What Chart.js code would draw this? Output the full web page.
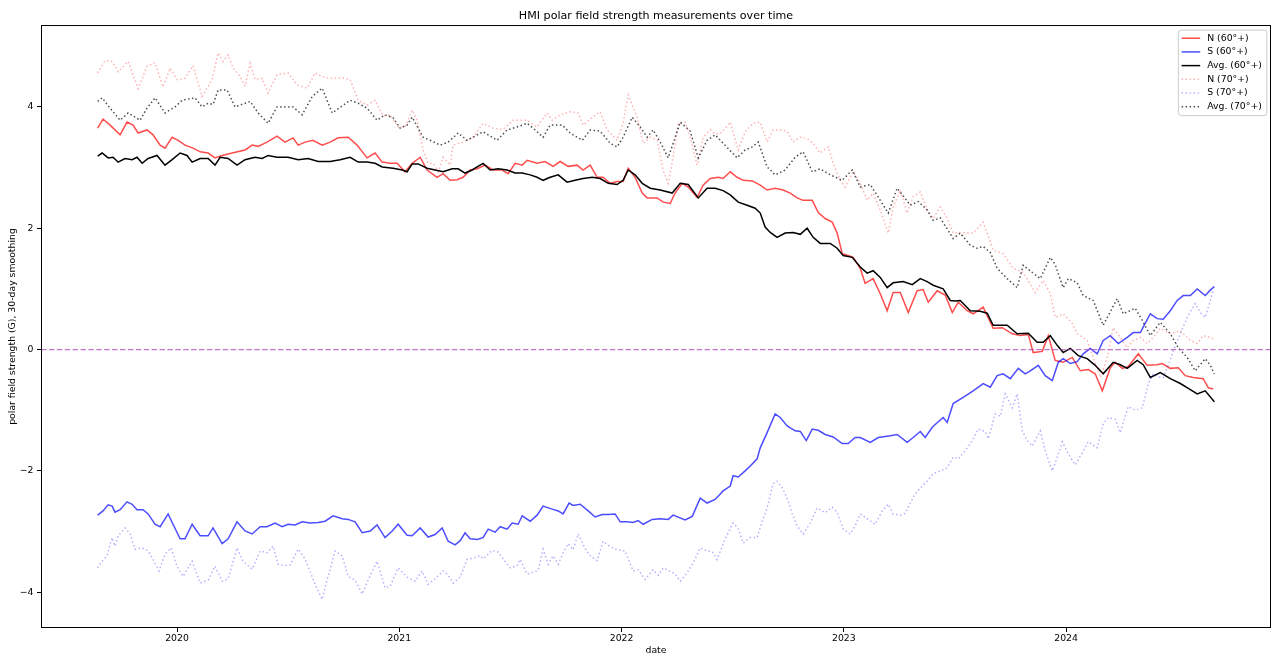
<!DOCTYPE html>
<html>
<head>
<meta charset="utf-8">
<title>HMI polar field strength measurements over time</title>
<script src="https://cdn.jsdelivr.net/npm/chart.js@4.4.1/dist/chart.umd.min.js"></script>
<style>
  html, body { margin: 0; padding: 0; background: #fff; }
  #wrap { width: 1280px; height: 667px; }
</style>
</head>
<body>
<div id="wrap"><canvas id="polarChart" width="1280" height="667"></canvas></div>
<script>
// dates are decimal years, values are polar field strength in G (30-day smoothing)

// N (60°+)
const north60Dates = [2019.643,2019.667,2019.699,2019.744,2019.775,2019.802,2019.825,2019.865,2019.892,2019.924,2019.946,2019.978,2020.005,2020.036,2020.072,2020.104,2020.14,2020.171,2020.203,2020.248,2020.306,2020.338,2020.365,2020.405,2020.45,2020.486,2020.522,2020.545,2020.576,2020.612,2020.653,2020.689,2020.725,2020.77,2020.81,2020.855,2020.891,2020.923,2020.959,2020.99,2021.026,2021.058,2021.094,2021.125,2021.17,2021.197,2021.229,2021.26,2021.287,2021.319,2021.35,2021.386,2021.422,2021.463,2021.49,2021.521,2021.553,2021.575,2021.62,2021.656,2021.692,2021.724,2021.76,2021.8,2021.827,2021.859,2021.89,2021.917,2021.949,2021.98,2022.007,2022.03,2022.061,2022.093,2022.115,2022.16,2022.187,2022.219,2022.241,2022.273,2022.3,2022.34,2022.367,2022.399,2022.435,2022.457,2022.489,2022.52,2022.547,2022.588,2022.624,2022.655,2022.691,2022.727,2022.759,2022.79,2022.817,2022.858,2022.885,2022.916,2022.948,2022.97,2022.993,2023.02,2023.042,2023.074,2023.096,2023.132,2023.164,2023.195,2023.222,2023.254,2023.29,2023.33,2023.357,2023.38,2023.42,2023.456,2023.488,2023.515,2023.555,2023.582,2023.627,2023.672,2023.713,2023.758,2023.794,2023.83,2023.852,2023.893,2023.92,2023.951,2023.987,2024.028,2024.064,2024.1,2024.131,2024.163,2024.199,2024.221,2024.253,2024.28,2024.325,2024.365,2024.41,2024.433,2024.469,2024.505,2024.536,2024.572,2024.617,2024.64,2024.662];
const north60Values = [3.65,3.80,3.70,3.54,3.75,3.70,3.57,3.62,3.54,3.37,3.32,3.50,3.45,3.37,3.32,3.26,3.24,3.16,3.20,3.24,3.29,3.37,3.35,3.42,3.52,3.42,3.49,3.37,3.42,3.45,3.37,3.42,3.49,3.50,3.37,3.16,3.24,3.09,3.07,3.07,2.93,3.07,3.17,2.96,2.84,2.90,2.79,2.80,2.84,2.96,2.98,3.04,2.96,2.96,2.90,3.07,3.04,3.12,3.07,3.10,3.02,3.10,3.02,3.04,2.96,3.04,2.84,2.84,2.74,2.77,2.77,2.99,2.84,2.58,2.50,2.50,2.43,2.41,2.58,2.74,2.68,2.51,2.71,2.82,2.84,2.82,2.93,2.84,2.79,2.78,2.71,2.63,2.66,2.63,2.58,2.50,2.46,2.46,2.26,2.16,2.10,1.92,1.58,1.55,1.52,1.34,1.09,1.17,0.92,0.64,0.94,0.94,0.61,0.97,0.99,0.78,0.97,0.90,0.61,0.78,0.64,0.59,0.70,0.35,0.36,0.26,0.23,0.25,-0.05,-0.03,0.23,-0.18,-0.21,-0.13,-0.35,-0.33,-0.40,-0.68,-0.30,-0.21,-0.31,-0.28,-0.07,-0.26,-0.25,-0.23,-0.31,-0.30,-0.43,-0.46,-0.48,-0.63,-0.65];

// S (60°+)
const south60Dates = [2019.643,2019.667,2019.69,2019.708,2019.721,2019.744,2019.775,2019.798,2019.82,2019.847,2019.87,2019.901,2019.924,2019.96,2019.982,2020.014,2020.036,2020.068,2020.104,2020.14,2020.162,2020.203,2020.23,2020.27,2020.306,2020.338,2020.374,2020.405,2020.441,2020.473,2020.5,2020.531,2020.563,2020.599,2020.635,2020.666,2020.702,2020.743,2020.77,2020.801,2020.833,2020.869,2020.9,2020.936,2020.968,2020.995,2021.035,2021.058,2021.094,2021.13,2021.161,2021.193,2021.22,2021.251,2021.274,2021.296,2021.319,2021.35,2021.377,2021.4,2021.431,2021.454,2021.485,2021.508,2021.535,2021.553,2021.589,2021.62,2021.647,2021.688,2021.715,2021.737,2021.764,2021.782,2021.814,2021.85,2021.881,2021.913,2021.94,2021.971,2021.994,2022.025,2022.052,2022.075,2022.097,2022.138,2022.174,2022.21,2022.232,2022.286,2022.318,2022.354,2022.385,2022.421,2022.457,2022.489,2022.502,2022.525,2022.556,2022.579,2022.61,2022.624,2022.655,2022.691,2022.714,2022.745,2022.781,2022.804,2022.831,2022.858,2022.885,2022.916,2022.952,2022.993,2023.02,2023.051,2023.074,2023.119,2023.155,2023.209,2023.24,2023.285,2023.312,2023.344,2023.366,2023.398,2023.425,2023.447,2023.465,2023.492,2023.537,2023.582,2023.627,2023.659,2023.69,2023.717,2023.749,2023.785,2023.816,2023.839,2023.875,2023.906,2023.938,2023.965,2023.987,2024.019,2024.05,2024.077,2024.109,2024.14,2024.167,2024.199,2024.235,2024.275,2024.302,2024.334,2024.356,2024.379,2024.41,2024.437,2024.469,2024.5,2024.527,2024.559,2024.59,2024.626,2024.649,2024.667];
const south60Values = [-2.73,-2.66,-2.56,-2.58,-2.68,-2.64,-2.51,-2.55,-2.64,-2.64,-2.71,-2.88,-2.92,-2.71,-2.88,-3.12,-3.12,-2.88,-3.07,-3.07,-2.94,-3.20,-3.12,-2.84,-2.99,-3.04,-2.92,-2.92,-2.86,-2.92,-2.88,-2.89,-2.84,-2.86,-2.85,-2.83,-2.74,-2.79,-2.80,-2.84,-3.02,-2.99,-2.89,-3.10,-2.99,-2.88,-3.06,-3.07,-2.94,-3.09,-3.05,-2.94,-3.16,-3.22,-3.15,-3.02,-3.12,-3.13,-3.10,-2.96,-3.01,-2.92,-2.96,-2.86,-2.88,-2.74,-2.83,-2.73,-2.58,-2.63,-2.66,-2.71,-2.53,-2.57,-2.55,-2.66,-2.76,-2.72,-2.72,-2.71,-2.84,-2.84,-2.85,-2.82,-2.88,-2.80,-2.79,-2.80,-2.73,-2.81,-2.75,-2.45,-2.53,-2.47,-2.33,-2.25,-2.08,-2.10,-2.00,-1.92,-1.80,-1.62,-1.37,-1.06,-1.12,-1.26,-1.34,-1.35,-1.50,-1.31,-1.33,-1.40,-1.44,-1.55,-1.55,-1.45,-1.45,-1.53,-1.45,-1.42,-1.40,-1.53,-1.45,-1.35,-1.45,-1.28,-1.19,-1.12,-1.20,-0.89,-0.79,-0.68,-0.56,-0.62,-0.43,-0.40,-0.48,-0.31,-0.40,-0.35,-0.26,-0.43,-0.51,-0.21,-0.15,-0.23,-0.20,-0.07,0.02,-0.07,0.15,0.23,0.10,0.20,0.28,0.28,0.43,0.59,0.51,0.50,0.64,0.81,0.89,0.89,1.00,0.89,0.98,1.04];

// Avg. (60°+)
const avg60Dates = [2019.643,2019.663,2019.69,2019.712,2019.735,2019.766,2019.798,2019.82,2019.843,2019.87,2019.91,2019.946,2019.978,2020.014,2020.045,2020.068,2020.104,2020.14,2020.171,2020.194,2020.23,2020.27,2020.306,2020.351,2020.383,2020.41,2020.45,2020.5,2020.545,2020.59,2020.635,2020.689,2020.734,2020.779,2020.815,2020.855,2020.891,2020.923,2020.972,2021.013,2021.035,2021.058,2021.085,2021.125,2021.161,2021.197,2021.238,2021.265,2021.296,2021.328,2021.35,2021.377,2021.409,2021.445,2021.485,2021.521,2021.553,2021.589,2021.62,2021.647,2021.679,2021.715,2021.755,2021.791,2021.827,2021.868,2021.904,2021.94,2021.98,2022.007,2022.03,2022.061,2022.093,2022.129,2022.174,2022.228,2022.264,2022.3,2022.345,2022.385,2022.421,2022.457,2022.489,2022.525,2022.565,2022.601,2022.624,2022.646,2022.669,2022.7,2022.736,2022.772,2022.804,2022.835,2022.862,2022.894,2022.939,2022.97,2022.997,2023.038,2023.074,2023.105,2023.132,2023.164,2023.195,2023.222,2023.267,2023.308,2023.344,2023.375,2023.402,2023.447,2023.479,2023.501,2023.524,2023.569,2023.614,2023.645,2023.672,2023.735,2023.78,2023.83,2023.87,2023.897,2023.929,2023.96,2023.987,2024.019,2024.055,2024.095,2024.131,2024.167,2024.212,2024.244,2024.275,2024.32,2024.347,2024.379,2024.424,2024.469,2024.514,2024.55,2024.59,2024.626,2024.667];
const avg60Values = [3.19,3.24,3.16,3.17,3.09,3.15,3.13,3.17,3.07,3.15,3.20,3.04,3.13,3.24,3.20,3.09,3.15,3.15,3.04,3.17,3.15,3.04,3.13,3.17,3.15,3.20,3.17,3.17,3.13,3.15,3.10,3.10,3.13,3.17,3.09,3.09,3.07,3.01,2.99,2.96,2.93,3.06,3.06,2.99,2.96,2.93,2.98,2.98,2.91,2.96,3.01,3.07,2.96,2.98,2.96,2.91,2.91,2.88,2.84,2.79,2.84,2.88,2.76,2.79,2.82,2.84,2.82,2.74,2.72,2.79,2.96,2.88,2.74,2.66,2.63,2.58,2.74,2.72,2.50,2.66,2.66,2.62,2.55,2.43,2.38,2.33,2.25,2.02,1.93,1.85,1.92,1.93,1.90,2.00,1.85,1.75,1.75,1.67,1.55,1.52,1.36,1.26,1.30,1.19,1.02,1.10,1.12,1.07,1.17,1.12,1.06,1.00,0.81,0.80,0.81,0.64,0.63,0.60,0.40,0.40,0.26,0.27,0.12,0.12,0.23,0.07,-0.05,0.02,-0.10,-0.15,-0.26,-0.40,-0.21,-0.25,-0.31,-0.18,-0.25,-0.46,-0.38,-0.48,-0.56,-0.64,-0.73,-0.68,-0.86];

// N (70°+)
const north70Dates = [2019.643,2019.676,2019.708,2019.735,2019.78,2019.825,2019.865,2019.901,2019.937,2019.969,2020.0,2020.036,2020.072,2020.113,2020.135,2020.158,2020.185,2020.207,2020.23,2020.252,2020.284,2020.306,2020.329,2020.351,2020.383,2020.41,2020.45,2020.5,2020.54,2020.585,2020.621,2020.653,2020.689,2020.743,2020.779,2020.815,2020.855,2020.891,2020.927,2020.959,2020.995,2021.026,2021.058,2021.08,2021.107,2021.13,2021.152,2021.175,2021.197,2021.229,2021.242,2021.287,2021.332,2021.377,2021.422,2021.467,2021.512,2021.575,2021.62,2021.665,2021.688,2021.724,2021.769,2021.805,2021.827,2021.859,2021.904,2021.935,2021.98,2022.007,2022.03,2022.07,2022.097,2022.129,2022.16,2022.187,2022.21,2022.232,2022.255,2022.286,2022.309,2022.34,2022.367,2022.399,2022.421,2022.453,2022.489,2022.525,2022.556,2022.592,2022.624,2022.655,2022.682,2022.714,2022.745,2022.772,2022.804,2022.835,2022.862,2022.894,2022.93,2022.952,2022.984,2023.006,2023.042,2023.074,2023.105,2023.132,2023.164,2023.2,2023.222,2023.254,2023.285,2023.312,2023.344,2023.375,2023.402,2023.434,2023.465,2023.492,2023.524,2023.582,2023.627,2023.672,2023.717,2023.762,2023.807,2023.861,2023.897,2023.929,2023.951,2023.987,2024.028,2024.05,2024.095,2024.122,2024.154,2024.185,2024.212,2024.244,2024.275,2024.302,2024.334,2024.365,2024.392,2024.424,2024.469,2024.514,2024.559,2024.59,2024.617,2024.662];
const north70Values = [4.56,4.76,4.75,4.58,4.75,4.30,4.67,4.73,4.33,4.64,4.45,4.47,4.68,4.17,4.31,4.45,4.89,4.75,4.86,4.64,4.50,4.34,4.72,4.45,4.47,4.23,4.53,4.56,4.36,4.31,4.56,4.50,4.47,4.48,4.45,4.11,4.03,4.11,3.85,3.87,3.67,3.67,3.95,3.78,3.29,3.07,3.07,2.93,3.17,3.04,3.37,3.42,3.50,3.73,3.65,3.63,3.78,3.78,3.67,3.90,3.78,3.87,3.92,3.90,3.70,3.80,3.92,3.62,3.45,3.73,4.20,3.83,3.40,3.50,3.45,2.96,2.74,3.17,3.73,3.75,3.50,3.04,3.50,3.62,3.55,3.58,3.75,3.29,3.59,3.73,3.75,3.42,3.62,3.62,3.60,3.42,3.50,3.48,3.40,3.24,3.34,3.07,2.79,2.68,2.93,2.74,2.46,2.58,2.30,1.92,2.35,2.63,2.25,2.52,2.60,2.30,2.16,2.35,2.16,1.92,1.93,1.92,2.10,1.64,1.58,1.34,1.27,0.94,1.14,0.92,0.53,0.59,0.43,0.26,0.15,-0.13,-0.46,-0.13,0.36,0.20,0.03,0.15,0.20,0.10,0.20,0.35,0.26,0.31,0.15,0.10,0.23,0.18];

// S (70°+)
const south70Dates = [2019.643,2019.663,2019.685,2019.708,2019.721,2019.735,2019.766,2019.789,2019.811,2019.843,2019.87,2019.892,2019.919,2019.946,2019.973,2020.0,2020.027,2020.068,2020.104,2020.14,2020.171,2020.203,2020.23,2020.27,2020.297,2020.338,2020.374,2020.405,2020.432,2020.455,2020.486,2020.509,2020.545,2020.576,2020.621,2020.653,2020.675,2020.711,2020.743,2020.77,2020.801,2020.833,2020.86,2020.9,2020.936,2020.959,2020.995,2021.035,2021.071,2021.103,2021.13,2021.161,2021.197,2021.22,2021.242,2021.274,2021.305,2021.332,2021.364,2021.377,2021.418,2021.445,2021.467,2021.499,2021.53,2021.544,2021.575,2021.602,2021.625,2021.647,2021.67,2021.692,2021.715,2021.737,2021.76,2021.782,2021.805,2021.836,2021.859,2021.89,2021.917,2021.949,2021.98,2022.016,2022.052,2022.075,2022.106,2022.142,2022.165,2022.187,2022.205,2022.241,2022.264,2022.295,2022.322,2022.354,2022.385,2022.408,2022.43,2022.466,2022.502,2022.525,2022.547,2022.579,2022.61,2022.633,2022.655,2022.682,2022.7,2022.727,2022.75,2022.768,2022.79,2022.817,2022.849,2022.88,2022.916,2022.948,2022.97,2022.997,2023.029,2023.051,2023.074,2023.11,2023.141,2023.173,2023.2,2023.222,2023.254,2023.276,2023.299,2023.321,2023.353,2023.375,2023.402,2023.434,2023.465,2023.492,2023.515,2023.546,2023.578,2023.605,2023.636,2023.65,2023.681,2023.704,2023.726,2023.758,2023.78,2023.803,2023.825,2023.848,2023.884,2023.906,2023.938,2023.96,2023.983,2024.01,2024.041,2024.073,2024.1,2024.14,2024.167,2024.19,2024.221,2024.244,2024.266,2024.28,2024.311,2024.343,2024.37,2024.392,2024.415,2024.437,2024.46,2024.482,2024.514,2024.545,2024.581,2024.604,2024.626,2024.649,2024.662];
const south70Values = [-3.60,-3.49,-3.40,-3.10,-3.24,-3.07,-2.94,-3.04,-3.29,-3.27,-3.32,-3.46,-3.65,-3.37,-3.27,-3.57,-3.74,-3.49,-3.85,-3.80,-3.57,-3.82,-3.78,-3.27,-3.49,-3.62,-3.32,-3.35,-3.24,-3.54,-3.56,-3.55,-3.29,-3.45,-3.87,-4.12,-3.80,-3.32,-3.40,-3.74,-3.80,-4.03,-3.80,-3.49,-3.93,-3.90,-3.60,-3.75,-3.82,-3.65,-3.87,-3.78,-3.65,-3.72,-3.85,-3.75,-3.46,-3.44,-3.40,-3.45,-3.31,-3.34,-3.45,-3.60,-3.56,-3.46,-3.70,-3.67,-3.64,-3.29,-3.54,-3.40,-3.54,-3.35,-3.20,-3.30,-3.04,-3.28,-3.40,-3.48,-3.16,-3.25,-3.30,-3.32,-3.65,-3.63,-3.79,-3.63,-3.72,-3.60,-3.63,-3.70,-3.82,-3.68,-3.52,-3.27,-3.32,-3.33,-3.46,-3.12,-2.86,-2.95,-3.19,-3.10,-3.10,-2.83,-2.61,-2.21,-2.17,-2.30,-2.50,-2.71,-2.91,-3.04,-2.86,-2.61,-2.69,-2.60,-2.68,-2.96,-3.04,-2.90,-2.71,-2.80,-2.88,-2.66,-2.55,-2.71,-2.73,-2.70,-2.53,-2.38,-2.25,-2.17,-2.05,-2.00,-1.95,-1.77,-1.80,-1.67,-1.50,-1.31,-1.35,-1.47,-1.06,-1.10,-0.73,-0.96,-0.73,-1.34,-1.50,-1.59,-1.34,-1.67,-2.00,-1.78,-1.52,-1.72,-1.90,-1.70,-1.52,-1.62,-1.22,-1.12,-1.15,-1.37,-1.10,-0.94,-1.00,-0.96,-0.56,-0.40,-0.45,-0.46,-0.26,-0.02,0.26,0.53,0.76,0.61,0.53,0.81,0.97];

// Avg. (70°+)
const avg70Dates = [2019.643,2019.663,2019.699,2019.744,2019.78,2019.834,2019.865,2019.901,2019.946,2019.991,2020.023,2020.081,2020.113,2020.14,2020.162,2020.185,2020.225,2020.261,2020.329,2020.365,2020.41,2020.45,2020.522,2020.563,2020.608,2020.653,2020.698,2020.779,2020.815,2020.855,2020.9,2020.936,2020.972,2021.004,2021.035,2021.058,2021.107,2021.139,2021.184,2021.22,2021.265,2021.305,2021.377,2021.44,2021.485,2021.53,2021.575,2021.602,2021.647,2021.679,2021.733,2021.769,2021.823,2021.859,2021.904,2021.949,2021.98,2022.007,2022.048,2022.084,2022.115,2022.142,2022.174,2022.21,2022.264,2022.309,2022.345,2022.385,2022.421,2022.457,2022.52,2022.556,2022.588,2022.615,2022.655,2022.691,2022.736,2022.781,2022.817,2022.858,2022.894,2022.939,2022.993,2023.038,2023.074,2023.119,2023.164,2023.2,2023.24,2023.299,2023.335,2023.375,2023.402,2023.434,2023.492,2023.524,2023.569,2023.6,2023.627,2023.659,2023.69,2023.735,2023.78,2023.807,2023.848,2023.884,2023.929,2023.951,2023.987,2024.01,2024.05,2024.077,2024.122,2024.167,2024.23,2024.257,2024.311,2024.343,2024.379,2024.424,2024.469,2024.505,2024.545,2024.581,2024.626,2024.649,2024.667];
const avg70Values = [4.09,4.15,3.98,3.78,3.90,3.78,3.98,4.15,3.90,4.00,4.11,4.15,4.00,4.06,4.04,4.28,4.28,4.00,4.09,3.90,3.73,4.00,4.00,3.87,4.17,4.31,3.90,4.11,4.06,3.98,3.78,3.87,3.82,3.65,3.70,3.83,3.50,3.45,3.37,3.42,3.57,3.45,3.59,3.45,3.62,3.67,3.73,3.65,3.50,3.70,3.70,3.57,3.45,3.62,3.60,3.40,3.34,3.50,3.83,3.67,3.50,3.62,3.42,3.16,3.75,3.60,3.16,3.45,3.54,3.40,3.16,3.29,3.34,3.42,3.01,2.88,2.96,3.17,3.26,2.93,2.98,2.88,2.79,2.96,2.68,2.72,2.46,2.25,2.66,2.38,2.44,2.30,2.13,2.17,1.83,1.92,1.72,1.67,1.70,1.60,1.34,1.17,1.02,1.39,1.27,1.17,1.52,1.40,1.02,1.17,1.10,0.89,0.81,0.40,0.84,0.59,0.68,0.48,0.23,0.45,0.26,0.03,-0.13,-0.35,-0.15,-0.26,-0.40];

const seriesLabels = ['N (60°+)', 'S (60°+)', 'Avg. (60°+)', 'N (70°+)', 'S (70°+)', 'Avg. (70°+)'];
const xTickValues = [2020, 2021, 2022, 2023, 2024];
const yTickValues = [-4, -2, 0, 2, 4];

const FONT = 'DejaVu Sans';

function toPoints(dates, values) {
  return dates.map((d, i) => ({ x: d, y: values[i] }));
}

function lineSet(label, dates, values, color, dash, order) {
  return {
    label: label,
    data: toPoints(dates, values),
    borderColor: color,
    backgroundColor: color,
    borderWidth: 1.5,
    borderDash: dash,
    pointRadius: 0,
    fill: false,
    tension: 0,
    order: order
  };
}

const dotted = [1.5, 2.5];

// dashed reference line at 0 G
const zeroLine = {
  id: 'zeroLine',
  afterDatasetsDraw(chart) {
    const { ctx, chartArea: a, scales } = chart;
    const py = scales.y.getPixelForValue(0);
    ctx.save();
    ctx.strokeStyle = 'rgba(170, 60, 180, 0.7)';
    ctx.lineWidth = 1.3;
    ctx.setLineDash([5.5, 2.4]);
    ctx.beginPath();
    ctx.moveTo(a.left, py);
    ctx.lineTo(a.right, py);
    ctx.stroke();
    ctx.restore();
  }
};

// axes frame and matplotlib-like legend box
const frameAndLegend = {
  id: 'frameAndLegend',
  afterDraw(chart) {
    const { ctx, chartArea: a } = chart;
    ctx.save();
    ctx.strokeStyle = '#000';
    ctx.lineWidth = 1;
    ctx.setLineDash([]);
    ctx.strokeRect(a.left + 0.5, a.top + 0.5, a.width - 1, a.height - 1);

    const boxW = 88.5, boxH = 85.5;
    const bx = a.right - 4.6 - boxW, by = a.top + 4.6;
    ctx.beginPath();
    ctx.roundRect(bx + 0.5, by + 0.5, boxW, boxH, 3);
    ctx.fillStyle = 'rgba(255,255,255,0.8)';
    ctx.fill();
    ctx.strokeStyle = '#cccccc';
    ctx.stroke();

    ctx.font = '9.3px "' + FONT + '"';
    ctx.textBaseline = 'middle';
    ctx.textAlign = 'left';
    chart.data.datasets.forEach((ds, i) => {
      const y = by + 8.6 + i * 13.7;
      ctx.strokeStyle = ds.borderColor;
      ctx.lineWidth = 1.5;
      ctx.setLineDash(ds.borderDash || []);
      ctx.beginPath();
      ctx.moveTo(bx + 3.7, y);
      ctx.lineTo(bx + 22.3, y);
      ctx.stroke();
      ctx.fillStyle = '#000';
      ctx.fillText(ds.label, bx + 29.3, y);
    });
    ctx.restore();
  }
};

const minus = v => (v < 0 ? '\u2212' + Math.abs(v) : String(v));

new Chart(document.getElementById('polarChart'), {
  type: 'line',
  data: {
    datasets: [
      lineSet(seriesLabels[0], north60Dates, north60Values, 'rgba(255,0,0,0.7)', [], 6),
      lineSet(seriesLabels[1], south60Dates, south60Values, 'rgba(0,0,255,0.7)', [], 5),
      lineSet(seriesLabels[2], avg60Dates, avg60Values, '#000000', [], 4),
      lineSet(seriesLabels[3], north70Dates, north70Values, 'rgba(255,0,0,0.3)', dotted, 3),
      lineSet(seriesLabels[4], south70Dates, south70Values, 'rgba(0,0,255,0.3)', dotted, 2),
      lineSet(seriesLabels[5], avg70Dates, avg70Values, 'rgba(0,0,0,0.7)', dotted, 1)
    ]
  },
  options: {
    responsive: false,
    animation: false,
    devicePixelRatio: 1,
    layout: { padding: { left: 0, right: 9, top: 0, bottom: 0 } },
    plugins: {
      legend: { display: false },
      tooltip: { enabled: false },
      title: {
        display: true,
        fullSize: false,
        text: 'HMI polar field strength measurements over time',
        color: '#000',
        font: { family: FONT, size: 11.1, weight: 'normal' },
        padding: { top: 9.3, bottom: 2.4 }
      }
    },
    scales: {
      x: {
        type: 'linear',
        min: 2019.388,
        max: 2024.922,
        afterBuildTicks: s => { s.ticks = xTickValues.map(v => ({ value: v })); },
        afterFit: s => { s.height = 39; },
        ticks: {
          color: '#000',
          font: { family: FONT, size: 9.3 },
          padding: 1,
          maxRotation: 0,
          autoSkip: false,
          callback: v => String(v)
        },
        grid: { drawOnChartArea: false, drawTicks: true, tickLength: 4, color: '#000', lineWidth: 1 },
        border: { display: false },
        title: {
          display: true,
          text: 'date',
          color: '#000',
          font: { family: FONT, size: 9.3 },
          padding: { top: 0, bottom: 10.4 }
        }
      },
      y: {
        type: 'linear',
        min: -4.59,
        max: 5.35,
        afterBuildTicks: s => { s.ticks = yTickValues.map(v => ({ value: v })); },
        afterFit: s => { s.width = 41; },
        ticks: {
          color: '#000',
          font: { family: FONT, size: 9.3 },
          padding: 3.5,
          autoSkip: false,
          callback: v => minus(v)
        },
        grid: { drawOnChartArea: false, drawTicks: true, tickLength: 4, color: '#000', lineWidth: 1 },
        border: { display: false },
        title: {
          display: true,
          text: 'polar field strength (G), 30-day smoothing',
          color: '#000',
          font: { family: FONT, size: 9.3 },
          padding: { top: 7, bottom: 0 }
        }
      }
    }
  },
  plugins: [zeroLine, frameAndLegend]
});
</script>
</body>
</html>
